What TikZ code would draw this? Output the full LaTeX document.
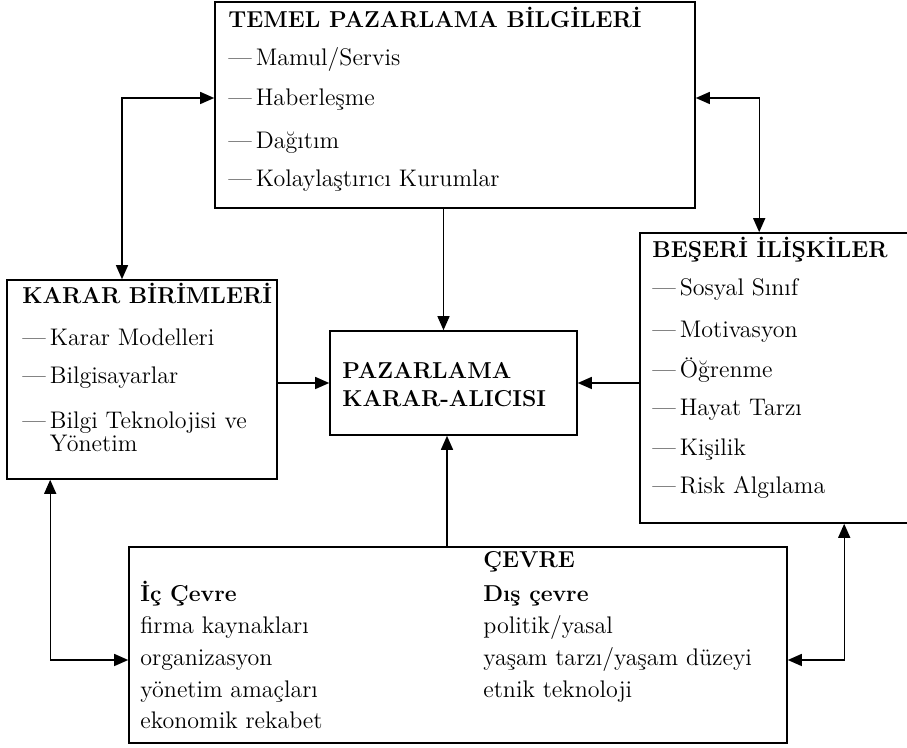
\documentclass[tikz,border=0pt]{standalone}
\usetikzlibrary{arrows.meta}
\begin{document}
\begin{tikzpicture}[x=0.5pt, y=-0.5pt,
		box/.style={draw, line width=0.8pt, inner sep=0pt},
		head/.style={anchor=west, inner sep=0pt, text height=8pt, text depth=2pt, font=\fontsize{11.5}{13}\selectfont\bfseries},
		item/.style={anchor=west, inner sep=0pt, text height=8pt, text depth=2pt, font=\fontsize{12}{14}\selectfont},
		link/.style={line width=0.7pt, -{Triangle[length=7pt,width=6pt]}},
		both/.style={line width=0.7pt, {Triangle[length=7pt,width=6pt]}-{Triangle[length=7pt,width=6pt]}}]
	\useasboundingbox (0,0) rectangle (907,748);
	\clip (0,0) rectangle (907,748);
	\node[box, minimum width=240pt, minimum height=103pt] (temel) at (455,105) {};
	\node[box, minimum width=135pt, minimum height=99.5pt] (karar) at (142,379.5) {};
	\node[box, minimum width=123.5pt, minimum height=52pt] (pazar) at (453.5,383) {};
	\node[box, minimum width=147.5pt, minimum height=145pt] (beseri) at (787.5,378) {};
	\node[box, minimum width=329pt, minimum height=98pt] (cevre) at (458,645) {};
	\node[head] (t0) at (228,22) {TEMEL PAZARLAMA BİLGİLERİ};
	\node[item] (t1) at (228,60) {---\,Mamul/Servis};
	\node[item] (t2) at (228,100) {---\,Haberleşme};
	\node[item] (t3) at (228,143) {---\,Dağıtım};
	\node[item] (t4) at (228,181) {---\,Kolaylaştırıcı Kurumlar};
	\node[head] (k0) at (22,298) {KARAR BİRİMLERİ};
	\node[item] (k1) at (22,340) {---\,Karar Modelleri};
	\node[item] (k2) at (22,378) {---\,Bilgisayarlar};
	\node[item] (k3) at (22,423) {---\,Bilgi Teknolojisi ve};
	\node[item] (k4) at (22,446) {\phantom{---\,}Yönetim};
	\node[head] (p1) at (342,373) {PAZARLAMA};
	\node[head] (p2) at (342,401) {KARAR-ALICISI};
	\node[head] (b0) at (652,252) {BEŞERİ İLİŞKİLER};
	\foreach \y/\t [count=\i] in {290/Sosyal Sınıf, 332/Motivasyon, 372/Öğrenme, 410/Hayat Tarzı, 450/Kişilik, 488/Risk Algılama} {
		\node[item] (b\i) at (652,\y) {---\,\t};
	}
	\node[head] (c0) at (483,562) {ÇEVRE};
	\node[head] (ci0) at (140,596) {İç Çevre};
	\node[item] (ci1) at (140,628) {firma kaynakları};
	\node[item] (ci2) at (140,660) {organizasyon};
	\node[item] (ci3) at (140,692) {yönetim amaçları};
	\node[item] (ci4) at (140,723) {ekonomik rekabet};
	\node[head] (cd0) at (483,596) {Dış çevre};
	\node[item] (cd1) at (483,628) {politik/yasal};
	\node[item] (cd2) at (483,660) {yaşam tarzı/yaşam düzeyi};
	\node[item] (cd3) at (483,692) {etnik teknoloji};
	\coordinate (ptop) at ([xshift=-5pt]pazar.north);
	\coordinate (pbot) at ([xshift=-3.25pt]pazar.south);
	\coordinate (kbot) at ([xshift=22pt]karar.south west);
	\coordinate (bbot) at ([xshift=102.5pt]beseri.south west);
	\coordinate (cl) at ([yshift=-7.5pt]cevre.west);
	\coordinate (cr) at ([yshift=-7.5pt]cevre.east);
	\draw[both] ([yshift=3.5pt]temel.west) -| ([xshift=-10pt]karar.north);
	\draw[both] ([yshift=3.5pt]temel.east) -| ([xshift=60pt]beseri.north west);
	\draw[link] (temel.south -| ptop) -- (ptop);
	\draw[link] (cevre.north -| pbot) -- (pbot);
	\draw[link] (karar.east |- pazar.west) -- (pazar.west);
	\draw[link] (beseri.west |- pazar.east) -- (pazar.east);
	\draw[both] (kbot) |- (cl);
	\draw[both] (bbot) |- (cr);
\end{tikzpicture}
\end{document}
